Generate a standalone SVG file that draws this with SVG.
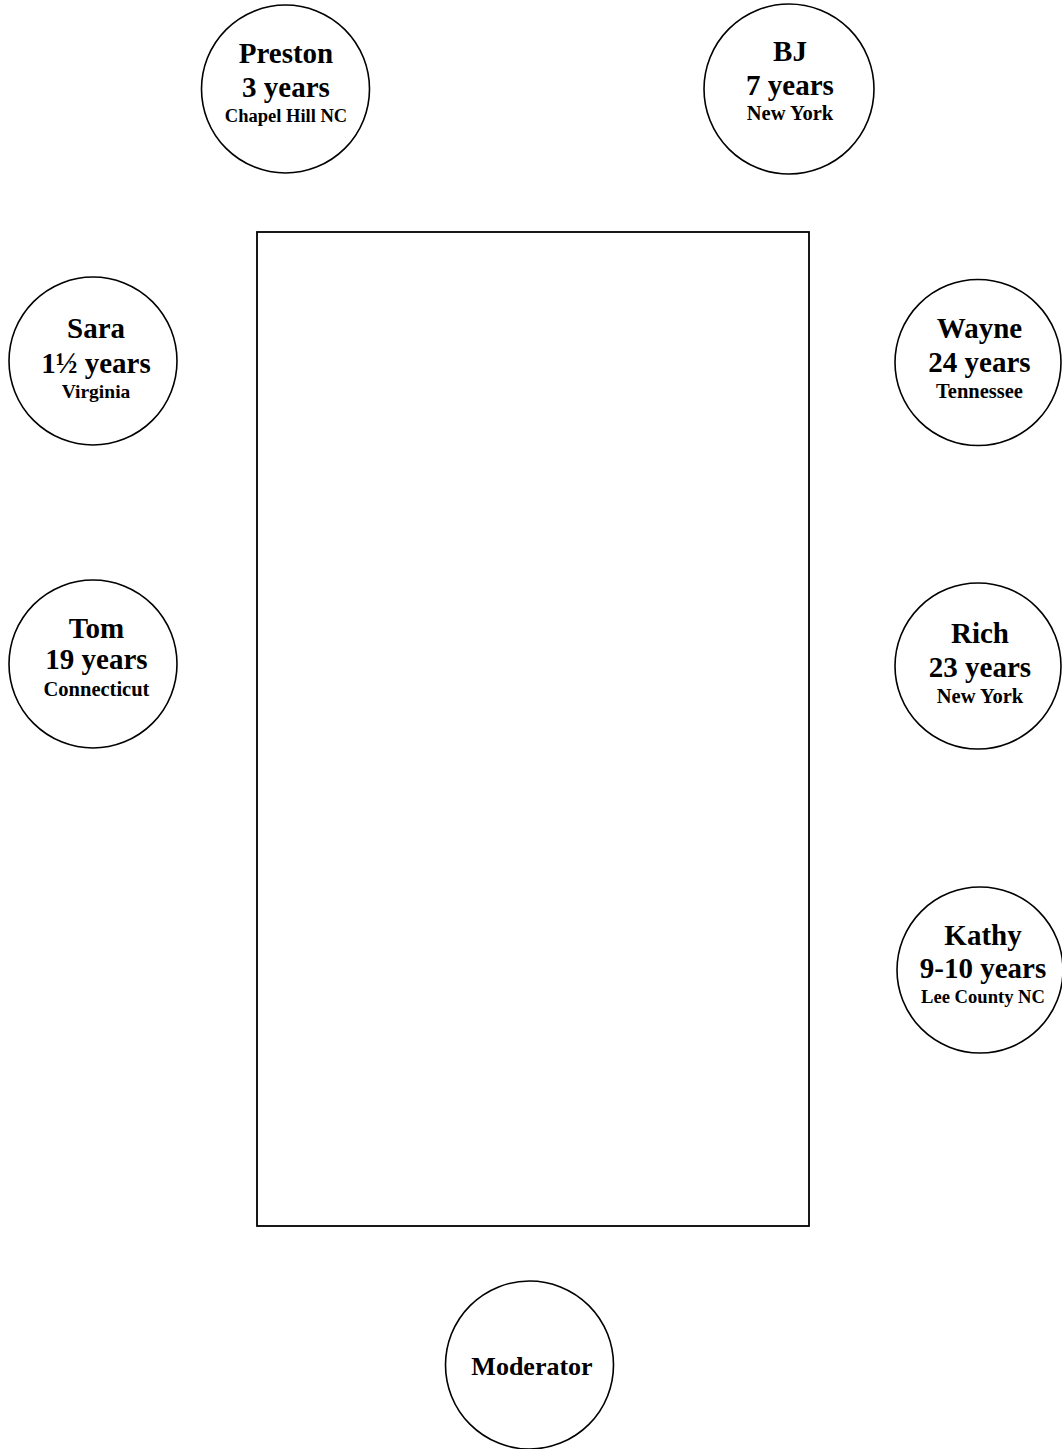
<svg xmlns="http://www.w3.org/2000/svg" width="1062" height="1449" viewBox="0 0 1062 1449">
<style>
.c{fill:#fff;stroke:#000;stroke-width:1.6}
.t{font-family:"Liberation Serif","Times New Roman",serif;font-weight:bold;text-anchor:middle;fill:#000}
.b{font-size:29px}
.s{font-size:19.5px}
</style>
<rect width="1062" height="1449" fill="#fff"/>
<g id="table"><rect x="257" y="232" width="552" height="994" fill="#fff" stroke="#000" stroke-width="1.8"/></g>
<g id="preston"><circle class="c" cx="285.5" cy="89" r="84"/>
<text class="t b" x="286" y="63">Preston</text><text class="t b" x="286" y="96.5">3 years</text><text class="t" x="286" y="121.5" font-size="18.5">Chapel Hill NC</text></g>
<g id="bj"><circle class="c" cx="789" cy="89" r="85"/>
<text class="t b" x="790" y="61">BJ</text><text class="t b" x="790" y="94.5">7 years</text><text class="t" x="790" y="120" font-size="20.5">New York</text></g>
<g id="sara"><circle class="c" cx="93" cy="361" r="84"/>
<text class="t b" x="96" y="338">Sara</text><text class="t b" x="96" y="373">1½ years</text><text class="t" x="96" y="398" font-size="19.5">Virginia</text></g>
<g id="wayne"><circle class="c" cx="978" cy="362.5" r="83"/>
<text class="t b" x="979.5" y="338">Wayne</text><text class="t b" x="979.5" y="372">24 years</text><text class="t" x="979.5" y="398" font-size="20.5">Tennessee</text></g>
<g id="tom"><circle class="c" cx="93" cy="664" r="84"/>
<text class="t b" x="96.5" y="637.5">Tom</text><text class="t b" x="96.5" y="669">19 years</text><text class="t" x="96.5" y="695.5" font-size="20.5">Connecticut</text></g>
<g id="rich"><circle class="c" cx="978" cy="666" r="83"/>
<text class="t b" x="980" y="643">Rich</text><text class="t b" x="980" y="677">23 years</text><text class="t" x="980" y="703" font-size="20.5">New York</text></g>
<g id="kathy"><circle class="c" cx="980" cy="970" r="83"/>
<text class="t b" x="983" y="945">Kathy</text><text class="t b" x="983" y="978">9-10 years</text><text class="t" x="983" y="1003" font-size="18.6">Lee County NC</text></g>
<g id="moderator"><circle class="c" cx="529.5" cy="1365" r="84"/>
<text class="t" x="532" y="1375" font-size="26">Moderator</text></g>
<g id="connectors"></g>
</svg>
